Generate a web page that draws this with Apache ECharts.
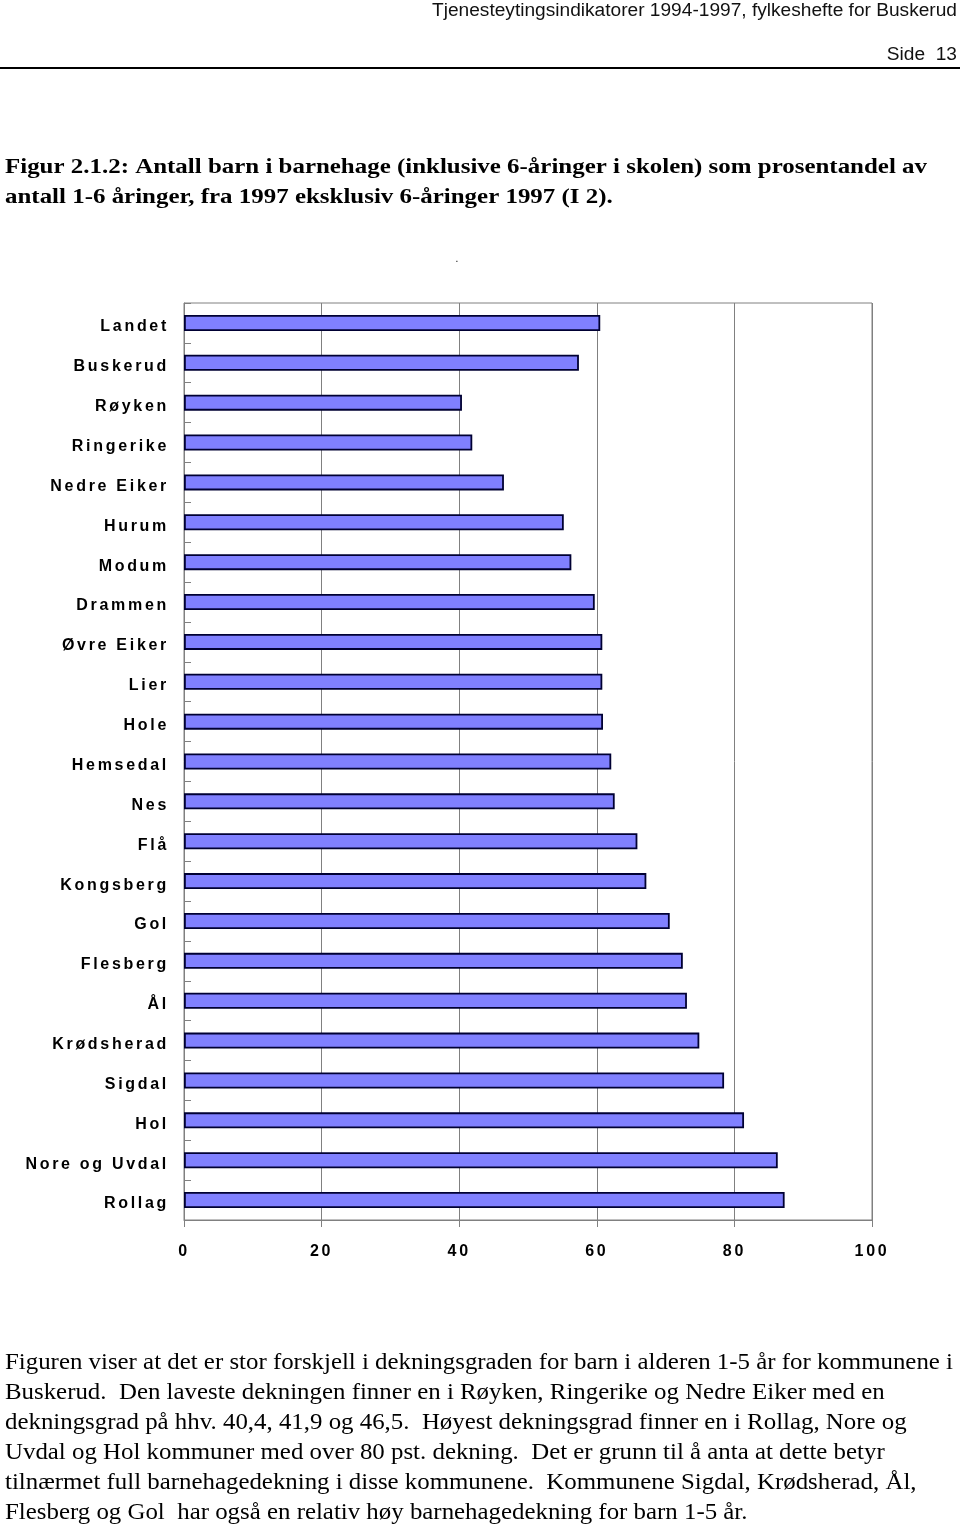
<!DOCTYPE html>
<html>
<head>
<meta charset="utf-8">
<script src="https://cdn.jsdelivr.net/npm/echarts@6/dist/echarts.min.js"></script>
<style>
html,body{margin:0;padding:0;background:#fff;}
#chart{width:960px;height:1525px;}
</style>
</head>
<body>
<div id="chart"></div>
<script>
const categories = ["Landet","Buskerud","Røyken","Ringerike","Nedre Eiker","Hurum","Modum","Drammen","Øvre Eiker","Lier","Hole","Hemsedal","Nes","Flå","Kongsberg","Gol","Flesberg","Ål","Krødsherad","Sigdal","Hol","Nore og Uvdal","Rollag"];
const values = [60.5,57.4,40.4,41.9,46.5,55.2,56.3,59.7,60.8,60.8,60.9,62.1,62.6,65.9,67.2,70.6,72.5,73.1,74.9,78.5,81.4,86.3,87.3];
const xTicks = [0,20,40,60,80,100];
const headerText = "Tjenesteytingsindikatorer 1994-1997, fylkeshefte for Buskerud";
const pageText = "Side  13";
const titleLines = [
  "Figur 2.1.2: Antall barn i barnehage (inklusive 6-åringer i skolen) som prosentandel av",
  "antall 1-6 åringer, fra 1997 eksklusiv 6-åringer 1997 (I 2)."
];
const bodyLines = [
  "Figuren viser at det er stor forskjell i dekningsgraden for barn i alderen 1-5 år for kommunene i",
  "Buskerud.  Den laveste dekningen finner en i Røyken, Ringerike og Nedre Eiker med en",
  "dekningsgrad på hhv. 40,4, 41,9 og 46,5.  Høyest dekningsgrad finner en i Rollag, Nore og",
  "Uvdal og Hol kommuner med over 80 pst. dekning.  Det er grunn til å anta at dette betyr",
  "tilnærmet full barnehagedekning i disse kommunene.  Kommunene Sigdal, Krødsherad, Ål,",
  "Flesberg og Gol  har også en relativ høy barnehagedekning for barn 1-5 år."
];

const mctx = document.createElement('canvas').getContext('2d');
function measure(text, font){ mctx.font = font; return mctx.measureText(text).width; }
function hasFont(name){
  const t = 'abcdefghijklmnopqrstuvwxyzABCDEFGHIJKLMNOPQRSTUVWXYZ0123456789';
  return ['monospace','serif','sans-serif'].every(b => measure(t, `40px "${name}", ${b}`) !== measure(t, `40px ${b}`));
}
function pick(list, fallback){ for (const n of list) { if (hasFont(n)) return n; } return fallback; }
const SERIF = pick(['Liberation Serif','Times New Roman','Tinos','Times'], 'serif');
const SANS = pick(['Liberation Sans','Arimo','Arial','Helvetica'], 'sans-serif');
const NARROW = pick(['Liberation Sans Narrow','Arial Narrow'], SANS);

// measure text exactly the way ECharts/zrender will draw it
function textWidth(text, weight, size, fam){
  try {
    const el = new echarts.graphic.Text({ style: { text: text, fontFamily: fam, fontSize: size, fontWeight: weight } });
    const w = el.getBoundingRect().width;
    if (w > 0) return w;
  } catch (e) {}
  return measure(text, `${weight} ${size}px ${fam}`);
}

// tracked (letter-spaced) bold axis labels, like the reference
const _fill = CanvasRenderingContext2D.prototype.fillText;
CanvasRenderingContext2D.prototype.fillText = function(t, x, y, m){
  const f = this.font || '';
  if (f.indexOf('bold') >= 0 && f.indexOf('16px') >= 0 && f.indexOf(SANS) >= 0 && 'letterSpacing' in this) {
    const prev = this.letterSpacing;
    this.letterSpacing = '2.7px';
    if (m === undefined) _fill.call(this, t, x, y); else _fill.call(this, t, x, y, m);
    this.letterSpacing = prev;
    return;
  }
  if (m === undefined) _fill.call(this, t, x, y); else _fill.call(this, t, x, y, m);
};

const headerScale = 525 / textWidth(headerText, 'normal', 18, NARROW);
const titleScale = 922 / textWidth(titleLines[0], 'bold', 22, SERIF);
const bodyScale = 948 / textWidth(bodyLines[0], 'normal', 24, SERIF);

function txt(text, x, y, weight, size, fam, scale, align, fill){
  return {
    type: 'text', x: x, y: y, scaleX: scale, scaleY: 1, silent: true,
    style: { text: text, x: 0, y: 0, fontFamily: fam, fontSize: size, fontWeight: weight, fill: fill || '#000',
      align: align, verticalAlign: 'middle', textAlign: align, textVerticalAlign: 'middle' }
  };
}

const graphics = [];
graphics.push(txt(headerText, 957, 11, 'normal', 18, NARROW, headerScale, 'right', '#111'));
graphics.push(txt(pageText, 957, 55, 'normal', 18, NARROW, headerScale, 'right', '#111'));
graphics.push({ type: 'line', silent: true, shape: { x1: 0, y1: 68, x2: 960, y2: 68 }, style: { stroke: '#000', lineWidth: 2 } });
titleLines.forEach((t, i) => graphics.push(txt(t, 5, 167 + i * 30, 'bold', 22, SERIF, titleScale, 'left', '#000')));
bodyLines.forEach((t, i) => graphics.push(txt(t, 5, 1363 + i * 30, 'normal', 24, SERIF, bodyScale, 'left', '#000')));
graphics.push(txt('.', 457, 259, 'normal', 10, SANS, 1, 'center', '#000'));

const chart = echarts.init(document.getElementById('chart'), null, { renderer: 'canvas' });
chart.setOption({
  backgroundColor: '#fff',
  animation: false,
  graphic: graphics,
  grid: { left: 184, right: 88, top: 303, bottom: 305, show: true, borderColor: '#808080', borderWidth: 1, backgroundColor: 'transparent' },
  xAxis: {
    type: 'value', min: xTicks[0], max: xTicks[xTicks.length - 1], interval: 20,
    axisLine: { show: true, lineStyle: { color: '#808080', width: 1 } },
    axisTick: { show: true, inside: false, length: 7, lineStyle: { color: '#808080' } },
    splitLine: { show: true, lineStyle: { color: '#808080', width: 1 } },
    axisLabel: { margin: 24, color: '#000', fontFamily: SANS, fontWeight: 'bold', fontSize: 16 }
  },
  yAxis: {
    type: 'category', data: categories, inverse: true, boundaryGap: true,
    axisLine: { show: true, onZero: false, lineStyle: { color: '#808080', width: 1 } },
    axisTick: { show: true, inside: true, length: 7, interval: 0, lineStyle: { color: '#808080' } },
    axisLabel: { interval: 0, margin: 15, verticalAlign: 'top', lineHeight: 8, color: '#000', fontFamily: SANS, fontWeight: 'bold', fontSize: 16 },
    splitLine: { show: false }
  },
  series: [{
    type: 'bar', data: values, barWidth: 16,
    itemStyle: { color: '#8080FF', borderColor: '#000033', borderWidth: 1.8 }
  }]
});
</script>
</body>
</html>
